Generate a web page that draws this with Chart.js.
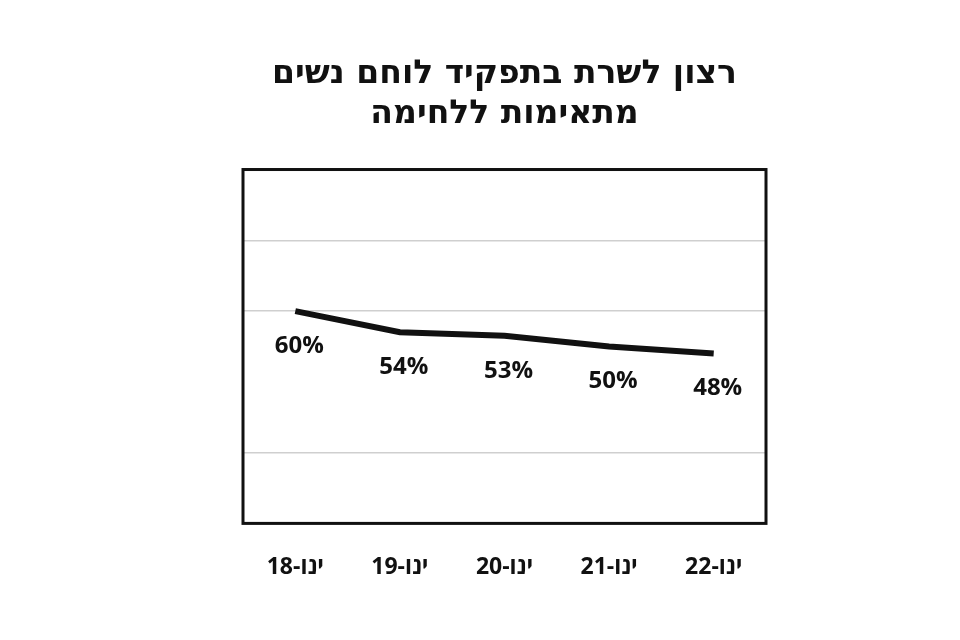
<!DOCTYPE html>
<html>
<head>
<meta charset="utf-8">
<script src="https://cdn.jsdelivr.net/npm/chart.js@4.4.1/dist/chart.umd.min.js"></script>
<style>
html,body{margin:0;padding:0;background:#fff;}
#wrap{width:960px;height:640px;}
</style>
</head>
<body>
<div id="wrap"><canvas id="c" width="960" height="640"></canvas></div>
<script>
const categories = ["ינו-18", "ינו-19", "ינו-20", "ינו-21", "ינו-22"];
const values = [60, 54, 53, 50, 48];
const titleLines = ["רצון לשרת בתפקיד לוחם נשים", "מתאימות ללחימה"];
const yTicks = [0, 20, 40, 60, 80, 100];
const shownGrid = [20, 60, 80];

const boxPlugin = {
  id: 'box',
  afterDraw(chart) {
    const a = chart.chartArea, ctx = chart.ctx;
    ctx.save();
    ctx.strokeStyle = '#111';
    ctx.lineWidth = 3;
    ctx.strokeRect(a.left, a.top, a.right - a.left, a.bottom - a.top);
    ctx.restore();
  }
};

const labelPlugin = {
  id: 'pctLabels',
  afterDatasetsDraw(chart) {
    const ctx = chart.ctx;
    const meta = chart.getDatasetMeta(0);
    ctx.save();
    ctx.font = 'bold 24px "Open Sans", "DejaVu Sans", sans-serif';
    ctx.fillStyle = '#111';
    ctx.textAlign = 'center';
    ctx.textBaseline = 'middle';
    meta.data.forEach((pt, i) => {
      ctx.fillText(values[i] + '%', pt.x + 4, pt.y + 35);
    });
    ctx.restore();
  }
};

new Chart(document.getElementById('c'), {
  type: 'line',
  data: {
    labels: categories,
    datasets: [{
      data: values,
      borderColor: '#111',
      borderWidth: 6,
      pointRadius: 0,
      tension: 0,
      fill: false
    }]
  },
  options: {
    responsive: false,
    animation: false,
    layout: { padding: { left: 243, right: 194, top: 54, bottom: 37 } },
    plugins: {
      legend: { display: false },
      tooltip: { enabled: false },
      title: {
        display: true,
        text: titleLines,
        color: '#111',
        font: { family: '"DejaVu Sans", sans-serif', size: 33, weight: 'bold', lineHeight: 1.22 },
        padding: { top: 0, bottom: 35 }
      }
    },
    scales: {
      x: {
        offset: true,
        grid: { display: false },
        border: { display: false },
        ticks: {
          color: '#111',
          padding: 22,
          font: { family: '"Open Sans", "DejaVu Sans", sans-serif', size: 23, weight: 'bold' }
        }
      },
      y: {
        min: 0, max: 100,
        afterBuildTicks(axis) { axis.ticks = yTicks.map(v => ({ value: v })); },
        grid: {
          drawTicks: false,
          lineWidth: 1.5,
          color: ctx => shownGrid.includes(ctx.tick.value) ? '#cfcfcf' : 'rgba(0,0,0,0)'
        },
        border: { display: false },
        ticks: { display: false }
      }
    }
  },
  plugins: [boxPlugin, labelPlugin]
});
</script>
</body>
</html>
